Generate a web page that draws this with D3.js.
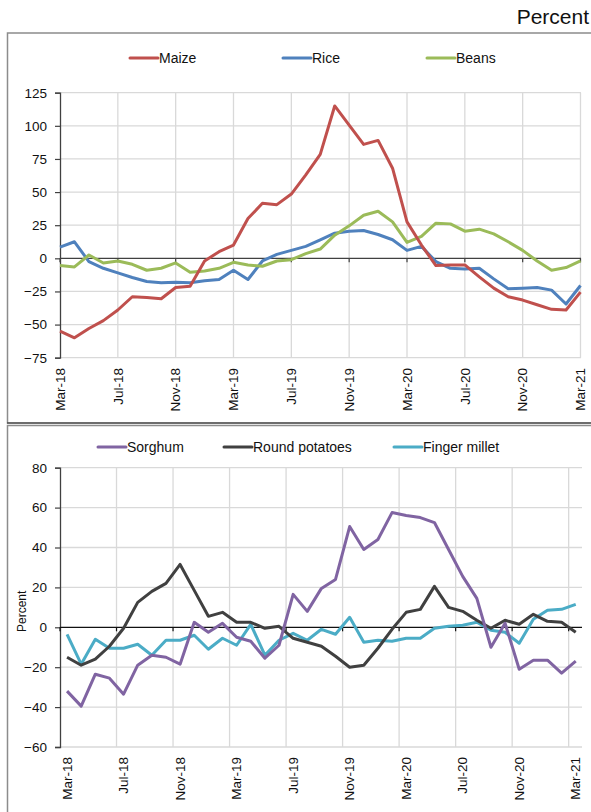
<!DOCTYPE html>
<html>
<head>
<meta charset="utf-8">
<script src="https://cdn.jsdelivr.net/npm/d3@7"></script>
<style>
  html, body { margin: 0; padding: 0; background: #fff; }
  svg { display: block; font-family: "Liberation Sans", Arial, sans-serif; }
</style>
</head>
<body>
<svg id="chart" width="591" height="812"></svg>
<script>
const months = ["Mar-18","Apr-18","May-18","Jun-18","Jul-18","Aug-18","Sep-18","Oct-18","Nov-18","Dec-18",
  "Jan-19","Feb-19","Mar-19","Apr-19","May-19","Jun-19","Jul-19","Aug-19","Sep-19","Oct-19","Nov-19","Dec-19",
  "Jan-20","Feb-20","Mar-20","Apr-20","May-20","Jun-20","Jul-20","Aug-20","Sep-20","Oct-20","Nov-20","Dec-20",
  "Jan-21","Feb-21","Mar-21"];
const tickLabels = ["Mar-18","Jul-18","Nov-18","Mar-19","Jul-19","Nov-19","Mar-20","Jul-20","Nov-20","Mar-21"];

const maize = [-55,-60,-53,-47,-39,-29,-29.5,-30.5,-22,-21,-2,5,10,30,41.5,40.5,48.5,63,78.5,115,100.5,86,89,68,27.5,10,-5.5,-5,-5,-14,-22.5,-29,-31.5,-35,-38.5,-39,-25.5];
const rice = [8.5,12.5,-2.5,-7.5,-11,-14.5,-17.5,-18.5,-18,-18.5,-17,-16,-9,-16,-2,3,6,9,14,19,20.5,21,18,14,6,9,-2.5,-7.5,-8,-7.5,-15.5,-23,-22.5,-22,-24,-34.5,-20.5];
const beans = [-5.5,-6.5,2.5,-3.5,-2,-4.5,-9,-7.5,-3.5,-10.5,-9.5,-7.5,-3,-5,-6,-2,-1,3.5,7,17.5,24.5,32.5,35.5,27.5,12,16.5,26.5,26,20.5,22,18.5,12.5,6,-2,-9,-7,-2];

const sorghum = [-32,-39.5,-23.5,-25.5,-33.5,-19,-14,-15,-18.5,2.5,-2.5,2,-5,-7,-15.5,-9,16.5,8,19.5,24,50.5,39,44,57.5,56,55,52.5,39,25.5,14.5,-10,2,-21,-16.5,-16.5,-23,-17];
const potatoes = [-15,-19,-16,-9.5,-0.5,12.5,18,22,31.5,18.5,5.5,7.5,2.5,2.5,-0.5,0.5,-5.5,-7.5,-9.5,-14.5,-20,-19,-10.5,-1,7.5,9,20.5,10,8,3.5,-0.5,3.5,1.5,6.5,3,2.5,-2.5];
const millet = [-3.5,-18.5,-6,-10.5,-10.5,-8.5,-14,-6.5,-6.5,-4,-11,-5.5,-9,1.5,-14,-6.5,-3,-6.5,-1,-3.5,5,-7.5,-6.5,-7,-5.5,-5.5,-0.5,0.5,1,2.5,-1.5,-2.5,-8,4,8.5,9,11.5];

const topTicks = [-75,-50,-25,0,25,50,75,100,125];
const bottomTicks = [-60,-40,-20,0,20,40,60,80];

const topSeries = [
  {name: "Maize", values: maize, color: "#C0504D"},
  {name: "Rice", values: rice, color: "#4F81BD"},
  {name: "Beans", values: beans, color: "#9BBB59"}
];
const bottomSeries = [
  {name: "Sorghum", values: sorghum, color: "#8064A2"},
  {name: "Round potatoes", values: potatoes, color: "#404040"},
  {name: "Finger millet", values: millet, color: "#4BACC6"}
];

const svg = d3.select("#chart");
const gridColor = "#d9d9d9";
const axisColor = "#404040";
const textColor = "#111";

// Title
svg.append("text").attr("x", 589).attr("y", 24).attr("text-anchor", "end")
  .attr("font-size", 21).attr("fill", textColor).text("Percent");

// Frames
svg.append("rect").attr("x", 7.5).attr("y", 33).attr("width", 700).attr("height", 390)
  .attr("fill", "none").attr("stroke", "#8c8c8c").attr("stroke-width", 1.5);
svg.append("rect").attr("x", 7.5).attr("y", 425.5).attr("width", 700).attr("height", 500)
  .attr("fill", "none").attr("stroke", "#8c8c8c").attr("stroke-width", 1.5);
svg.append("line").attr("x1", 7).attr("x2", 591).attr("y1", 423).attr("y2", 423)
  .attr("stroke", "#333").attr("stroke-width", 1.2);

function drawLegend(g, series, lineXs, y) {
  series.forEach((s, i) => {
    const x0 = lineXs[i];
    g.append("line").attr("x1", x0).attr("x2", x0 + 28).attr("y1", y).attr("y2", y)
      .attr("stroke", s.color).attr("stroke-width", 3).attr("stroke-linecap", "round");
    g.append("text").attr("x", x0 + 29).attr("y", y).attr("dy", "0.35em")
      .attr("font-size", 14).attr("fill", textColor).text(s.name);
  });
}

function drawYAxis(g, y, ticks, x0, x1) {
  g.append("g").selectAll("line").data(ticks.filter(t => t !== 0)).join("line")
    .attr("x1", x0).attr("x2", x1).attr("y1", d => y(d)).attr("y2", d => y(d))
    .attr("stroke", gridColor).attr("stroke-width", 1.3);
  const ax = g.append("g").attr("transform", `translate(${x0},0)`)
    .call(d3.axisLeft(y).tickValues(ticks).tickSize(5).tickPadding(8).tickFormat(d3.format("d")));
  ax.select(".domain").attr("stroke", axisColor).attr("stroke-width", 1.3);
  ax.selectAll(".tick line").attr("stroke", axisColor).attr("stroke-width", 1.2);
  ax.selectAll(".tick text").attr("font-size", 13.5).attr("fill", textColor)
    .attr("font-family", "'Liberation Sans', Arial, sans-serif");
}

// ---------- Top chart ----------
{
  const g = svg.append("g");
  const x = d3.scalePoint().domain(months).range([60, 580.5]);
  const y = d3.scaleLinear().domain([-75, 125]).range([357.7, 92.7]);
  const tickIdx = months.map((m, i) => i).filter(i => i % 4 === 0);

  g.append("g").selectAll("line").data(tickIdx.filter(i => i > 0)).join("line")
    .attr("x1", i => x(months[i])).attr("x2", i => x(months[i]))
    .attr("y1", y(125)).attr("y2", y(-75)).attr("stroke", gridColor).attr("stroke-width", 1.3);

  drawYAxis(g, y, topTicks, 60, 581);

  g.append("line").attr("x1", 60).attr("x2", 581).attr("y1", y(0)).attr("y2", y(0))
    .attr("stroke", axisColor).attr("stroke-width", 1.3);
  g.append("g").selectAll("line").data(tickIdx).join("line")
    .attr("x1", i => x(months[i])).attr("x2", i => x(months[i]))
    .attr("y1", y(0)).attr("y2", y(0) + 4).attr("stroke", axisColor).attr("stroke-width", 1.2);

  g.append("g").selectAll("text").data(tickLabels).join("text")
    .attr("transform", d => `translate(${x(d)},368) rotate(-90)`)
    .attr("text-anchor", "end").attr("dy", "0.35em")
    .attr("font-size", 13.5).attr("fill", textColor).text(d => d);

  const line = d3.line().x((d, i) => x(months[i])).y(d => y(d));
  [topSeries[1], topSeries[2], topSeries[0]].forEach(s => {
    g.append("path").datum(s.values).attr("d", line).attr("fill", "none")
      .attr("stroke", s.color).attr("stroke-width", 3).attr("stroke-linejoin", "round");
  });

  drawLegend(g, topSeries, [130, 283, 427], 58);
}

// ---------- Bottom chart ----------
{
  const g = svg.append("g");
  const x = d3.scaleBand().domain(months).range([60, 582.8]).padding(0);
  const y = d3.scaleLinear().domain([-60, 80]).range([747, 467.7]);
  const tickIdx = months.map((m, i) => i).filter(i => i % 4 === 0);

  g.append("g").selectAll("line").data(tickIdx.filter(i => i > 0)).join("line")
    .attr("x1", i => x(months[i])).attr("x2", i => x(months[i]))
    .attr("y1", y(80)).attr("y2", y(-60)).attr("stroke", gridColor).attr("stroke-width", 1.3);

  drawYAxis(g, y, bottomTicks, 60, 582);

  g.append("line").attr("x1", 60).attr("x2", 582).attr("y1", y(0)).attr("y2", y(0))
    .attr("stroke", "#111").attr("stroke-width", 1.3);
  g.append("g").selectAll("line").data(tickIdx).join("line")
    .attr("x1", i => x(months[i])).attr("x2", i => x(months[i]))
    .attr("y1", y(0)).attr("y2", y(0) + 4).attr("stroke", "#111").attr("stroke-width", 1.2);

  g.append("g").selectAll("text").data(tickLabels).join("text")
    .attr("transform", d => `translate(${x(d) + x.bandwidth() / 2},757) rotate(-90)`)
    .attr("text-anchor", "end").attr("dy", "0.35em")
    .attr("font-size", 13.5).attr("fill", textColor).text(d => d);

  g.append("text").attr("transform", `translate(22,${(y(80) + y(-60)) / 2 + 4}) rotate(-90)`)
    .attr("text-anchor", "middle").attr("dy", "0.35em").attr("font-size", 12)
    .attr("fill", textColor).text("Percent");

  const line = d3.line().x((d, i) => x(months[i]) + x.bandwidth() / 2).y(d => y(d));
  [bottomSeries[2], bottomSeries[1], bottomSeries[0]].forEach(s => {
    g.append("path").datum(s.values).attr("d", line).attr("fill", "none")
      .attr("stroke", s.color).attr("stroke-width", 3).attr("stroke-linejoin", "round");
  });

  drawLegend(g, bottomSeries, [98, 224, 394], 447);
}
</script>
</body>
</html>
